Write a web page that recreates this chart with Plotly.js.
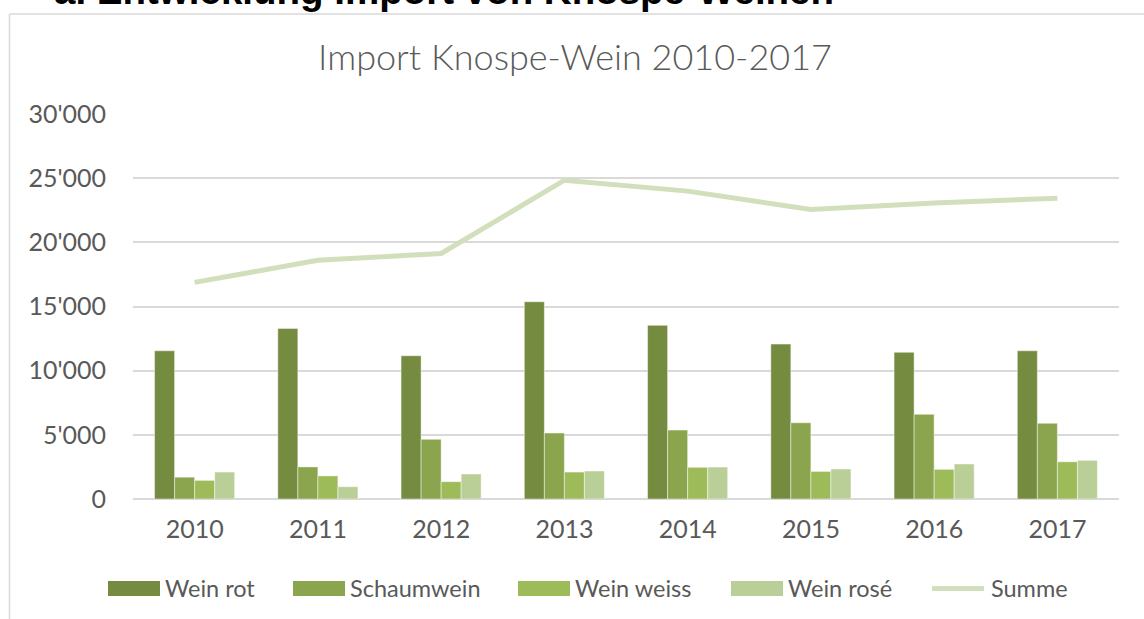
<!DOCTYPE html>
<html>
<head>
<meta charset="utf-8">
<script src="https://cdn.plot.ly/plotly-3.0.1.min.js"></script>
<style>
  html, body { margin: 0; padding: 0; background: #fff; }
  #chart { width: 1144px; height: 619px; }
</style>
</head>
<body>
<div id="chart"></div>
<script>
const years = ['2010', '2011', '2012', '2013', '2014', '2015', '2016', '2017'];
const weinRot    = [11550, 13290, 11160, 15370, 13530, 12070, 11430, 11550];
const schaumwein = [1700, 2500, 4650, 5140, 5370, 5940, 6600, 5900];
const weinWeiss  = [1450, 1800, 1350, 2100, 2470, 2150, 2310, 2900];
const weinRose   = [2100, 960, 1950, 2180, 2490, 2340, 2730, 3010];
const summe      = [16880, 18600, 19130, 24840, 23990, 22560, 23060, 23440];
const yTickVals  = [0, 5000, 10000, 15000, 20000, 25000, 30000];
const yTickText  = ['0', "5'000", "10'000", "15'000", "20'000", "25'000", "30'000"];

const FONT = "Lato, 'Open Sans', sans-serif";
const TXT = '#595959';
const barLine = { color: 'rgba(255,255,255,0.45)', width: 1 };

const traces = [
  { type: 'bar', name: 'Wein rot', x: years, y: weinRot, marker: { color: '#758b40', line: barLine } },
  { type: 'bar', name: 'Schaumwein', x: years, y: schaumwein, marker: { color: '#8aa54d', line: barLine } },
  { type: 'bar', name: 'Wein weiss', x: years, y: weinWeiss, marker: { color: '#9dbb59', line: barLine } },
  { type: 'bar', name: 'Wein rosé', x: years, y: weinRose, marker: { color: '#bacf97', line: barLine } },
  { type: 'scatter', mode: 'lines', name: 'Summe', x: years, y: summe, line: { color: '#d1dfbc', width: 5 } }
];

// plot area: x 133..1119, y 114..499
const L = 133, R = 1144 - 1119, T = 114, B = 619 - 499;
const pw = 1144 - L - R, ph = 619 - T - B;
const px = v => (v - L) / pw;
const py = v => (619 - B - v) / ph;

// manual legend layout (pixel positions of swatch start/end)
const legendSlots = [[108, 160], [293, 345], [518, 570], [731, 783], [930, 986]];
const legendY = 588.5;

const shapes = [
  { type: 'line', xref: 'paper', yref: 'paper', x0: px(9.5), x1: px(9.5), y0: py(14), y1: py(640), line: { color: '#d9d9d9', width: 1.5 } },
  { type: 'line', xref: 'paper', yref: 'paper', x0: px(9.5), x1: px(1150), y0: py(14), y1: py(14), line: { color: '#d9d9d9', width: 1.5 } }
];
const annotations = [
  { text: '<b>a. Entwicklung Import von Knospe-Weinen</b>', xref: 'paper', yref: 'paper',
    x: px(52), xanchor: 'left', y: py(14), yanchor: 'bottom', showarrow: false,
    font: { family: "'Liberation Sans', Arial, sans-serif", size: 38.5, color: '#000000' } }
];

traces.forEach((t, i) => {
  t.showlegend = false;
  const [a, b] = legendSlots[i];
  if (t.type === 'bar') {
    shapes.push({ type: 'rect', xref: 'paper', yref: 'paper', x0: px(a), x1: px(b),
      y0: py(legendY - 7.5), y1: py(legendY + 7.5), fillcolor: t.marker.color, line: { width: 0 } });
  } else {
    shapes.push({ type: 'line', xref: 'paper', yref: 'paper', x0: px(a + 2), x1: px(b - 2),
      y0: py(legendY), y1: py(legendY), line: { color: t.line.color, width: 5 } });
  }
  annotations.push({ text: t.name, xref: 'paper', yref: 'paper', x: px(b + 3), xanchor: 'left',
    y: py(legendY - 1), yanchor: 'middle', showarrow: false,
    font: { family: FONT, size: 23.5, color: TXT } });
});

const layout = {
  width: 1144, height: 619,
  margin: { l: L, r: R, t: T, b: B, pad: 0 },
  paper_bgcolor: '#ffffff', plot_bgcolor: '#ffffff',
  font: { family: FONT, color: TXT, size: 22 },
  barmode: 'group', bargap: 0.35, bargroupgap: 0,
  showlegend: false,
  title: {
    text: 'Import Knospe-Wein 2010-2017',
    font: { family: FONT, size: 36, color: TXT, weight: 300 },
    x: 575 / 1144, xanchor: 'center', xref: 'container',
    y: 1 - 57 / 619, yanchor: 'middle', yref: 'container'
  },
  xaxis: {
    type: 'category', showgrid: false, zeroline: false,
    showline: false, ticks: '', tickfont: { size: 25, color: TXT, family: FONT },
    ticklabelstandoff: 13
  },
  yaxis: {
    range: [0, 30000], tickvals: yTickVals, ticktext: yTickText,
    showgrid: true, gridcolor: '#d9d9d9', gridwidth: 2,
    zeroline: true, zerolinecolor: '#d9d9d9', zerolinewidth: 2,
    showline: false, ticks: '', tickfont: { size: 25, color: TXT, family: FONT },
    ticklabelstandoff: 26, fixedrange: true
  },
  shapes: shapes,
  annotations: annotations
};

Plotly.newPlot('chart', traces, layout, { staticPlot: true, displayModeBar: false });
</script>
</body>
</html>
